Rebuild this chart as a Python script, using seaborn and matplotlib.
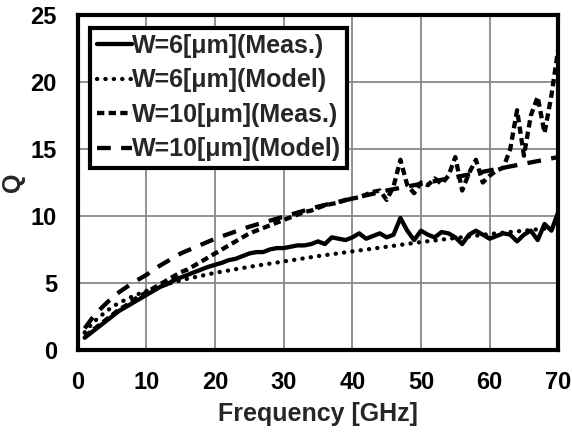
import numpy as np
import pandas as pd
import matplotlib
matplotlib.use("Agg")
import matplotlib.pyplot as plt
import seaborn as sns

# Measured data (1 GHz steps)
freq_meas = list(range(1, 71))
q_w6_meas = [0.9, 1.3, 1.7, 2.1, 2.5, 2.9, 3.2, 3.5, 3.8, 4.1,
             4.4, 4.7, 4.9, 5.2, 5.4, 5.6, 5.8, 6.0, 6.2, 6.35,
             6.5, 6.7, 6.8, 7.0, 7.2, 7.3, 7.3, 7.5, 7.6, 7.6,
             7.7, 7.8, 7.8, 7.9, 8.1, 7.9, 8.4, 8.3, 8.2, 8.4,
             8.7, 8.3, 8.5, 8.7, 8.4, 8.6, 9.85, 8.9, 8.2, 8.9,
             8.6, 8.4, 8.8, 8.7, 8.4, 7.9, 8.6, 8.9, 8.6, 8.3,
             8.5, 8.7, 8.6, 8.1, 8.6, 8.9, 8.2, 9.4, 8.9, 10.3]
q_w10_meas = [1.0, 1.4, 1.8, 2.2, 2.6, 3.0, 3.3, 3.7, 4.0, 4.3,
              4.6, 4.9, 5.2, 5.5, 5.8, 6.0, 6.3, 6.6, 6.9, 7.2,
              7.5, 7.8, 8.1, 8.4, 8.7, 8.9, 9.1, 9.3, 9.5, 9.7,
              9.9, 10.1, 10.3, 10.4, 10.6, 10.8, 10.9, 11.0, 11.2, 11.3,
              11.4, 11.6, 11.8, 11.9, 11.2, 12.2, 14.2, 12.3, 11.7, 12.5,
              12.3, 12.8, 12.4, 13.0, 14.4, 11.9, 13.2, 14.2, 12.5, 13.0,
              13.4, 13.6, 15.0, 17.9, 14.5, 17.5, 18.9, 16.2, 19.0, 22.5]

# Model curves
freq_model = [1, 2, 3, 4, 5, 6, 8, 10, 12, 15, 20, 25, 30, 35, 40, 45, 50, 55, 60, 65, 70]
q_w6_model = [1.3, 1.9, 2.4, 2.8, 3.2, 3.5, 4.0, 4.4, 4.75, 5.2, 5.75, 6.2, 6.6,
              7.0, 7.35, 7.7, 8.05, 8.35, 8.65, 8.9, 9.15]
q_w10_model = [1.6, 2.3, 2.9, 3.4, 3.9, 4.3, 5.0, 5.6, 6.3, 7.2, 8.3, 9.2, 9.95,
               10.7, 11.3, 11.9, 12.4, 12.9, 13.4, 13.9, 14.4]

labels = ["W=6[μm](Meas.)", "W=6[μm](Model)", "W=10[μm](Meas.)", "W=10[μm](Model)"]

sns.set_theme(style="white")
plt.rcParams['font.family'] = ['Liberation Sans', 'DejaVu Sans']
plt.rcParams['font.weight'] = 'bold'

fig = plt.figure(figsize=(5.72, 4.34), dpi=100)
ax = fig.add_axes([0.136, 0.194, 0.840, 0.771])

lw = 3.1
sns.lineplot(x=freq_meas, y=q_w6_meas, ax=ax, color="black", lw=lw, label=labels[0])
sns.lineplot(x=freq_model, y=q_w6_model, ax=ax, color="black", lw=lw,
             linestyle=(0, (0.05, 1.9)), dash_capstyle="round", label=labels[1])
sns.lineplot(x=freq_meas, y=q_w10_meas, ax=ax, color="black", lw=lw,
             linestyle=(0, (1.7, 1.0)), label=labels[2])
sns.lineplot(x=freq_model, y=q_w10_model, ax=ax, color="black", lw=lw,
             linestyle=(0, (3.2, 2.4)), label=labels[3])

ax.set_xlim(0, 70)
ax.set_ylim(0, 25)
ax.set_xticks(range(0, 71, 10))
ax.set_yticks(range(0, 26, 5))
ax.grid(True, color="#888888", lw=1.3)
ax.set_axisbelow(True)
for s in ax.spines.values():
    s.set_color("black")
    s.set_linewidth(3.0)
ax.tick_params(length=0, labelsize=17, pad=15, colors="black")
for t in ax.get_xticklabels() + ax.get_yticklabels():
    t.set_fontweight("bold")
ax.set_xlabel("Frequency [GHz]", fontsize=18, fontweight="bold", labelpad=6)
ax.set_ylabel("Q", fontsize=18, fontweight="bold", labelpad=4)

leg = ax.legend(loc="upper left", bbox_to_anchor=(0.0, 1.0),
                prop={"weight": "bold", "size": 18}, frameon=True, fancybox=False,
                handlelength=1.4, handletextpad=0.0, borderpad=0.25, labelspacing=0.42,
                borderaxespad=0.5)
leg.get_frame().set_edgecolor("black")
leg.get_frame().set_linewidth(3.0)
leg.get_frame().set_alpha(1)

fig.savefig("out.png", dpi=100)
